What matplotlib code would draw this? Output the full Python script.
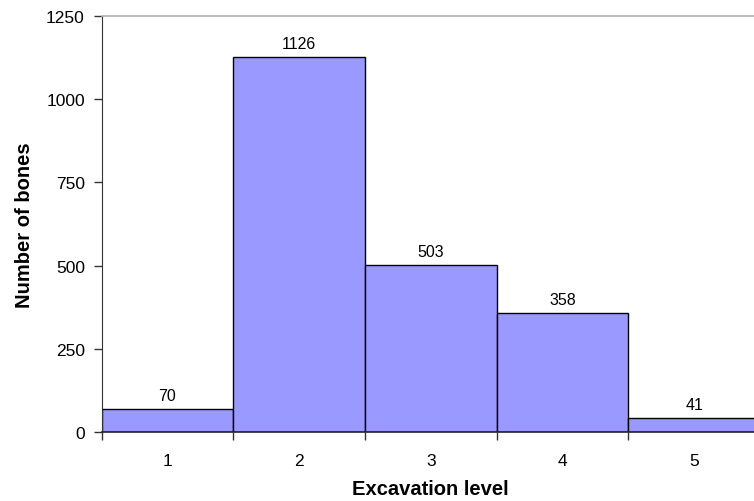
import matplotlib
matplotlib.use("Agg")
import matplotlib.pyplot as plt
import numpy as np

levels = ["1", "2", "3", "4", "5"]
bone_counts = [70, 1126, 503, 358, 41]
y_ticks = [0, 250, 500, 750, 1000, 1250]

plt.rcParams["font.family"] = ["Liberation Sans", "DejaVu Sans"]

fig = plt.figure(figsize=(7.54, 5.02), dpi=100)
ax = fig.add_axes([101.5 / 754, 69 / 502, 658.5 / 754, 416 / 502])

x = np.arange(len(levels))
bars = ax.bar(x, bone_counts, width=1.0, color="#9999FF",
              edgecolor="black", linewidth=1.0, zorder=2)

ax.set_xlim(-0.5, len(levels) - 0.5)
ax.set_ylim(0, 1250)
ax.set_yticks(y_ticks)
ax.set_yticklabels([str(v) for v in y_ticks], fontsize=12.5)

# category boundaries carry the tick marks, labels sit at bar centres
ax.set_xticks(np.arange(len(levels) + 1) - 0.5)
ax.set_xticklabels([])
ax.set_xticks(x, minor=True)
ax.set_xticklabels(levels, minor=True, fontsize=12.5)
ax.tick_params(axis="x", which="major", direction="out", length=6,
               width=1, color="#333333")
ax.tick_params(axis="x", which="minor", length=0, pad=15)
ax.tick_params(axis="y", direction="out", length=6, width=1,
               color="#333333", pad=6)

ax.spines["right"].set_visible(False)
ax.spines["top"].set_color("#b0b0b0")
ax.spines["top"].set_linewidth(1.2)
ax.spines["left"].set_color("#333333")
ax.spines["bottom"].set_color("#222222")
ax.spines["bottom"].set_linewidth(1.2)

for xi, v in zip(x, bone_counts):
    ax.text(xi, v + 18, str(v), ha="center", va="bottom", fontsize=11.5)

ax.set_xlabel("Excavation level", fontsize=14.5, fontweight="bold", labelpad=8)
ax.set_ylabel("Number of bones", fontsize=14.5, fontweight="bold", labelpad=9)

fig.savefig("out.png", dpi=100)
